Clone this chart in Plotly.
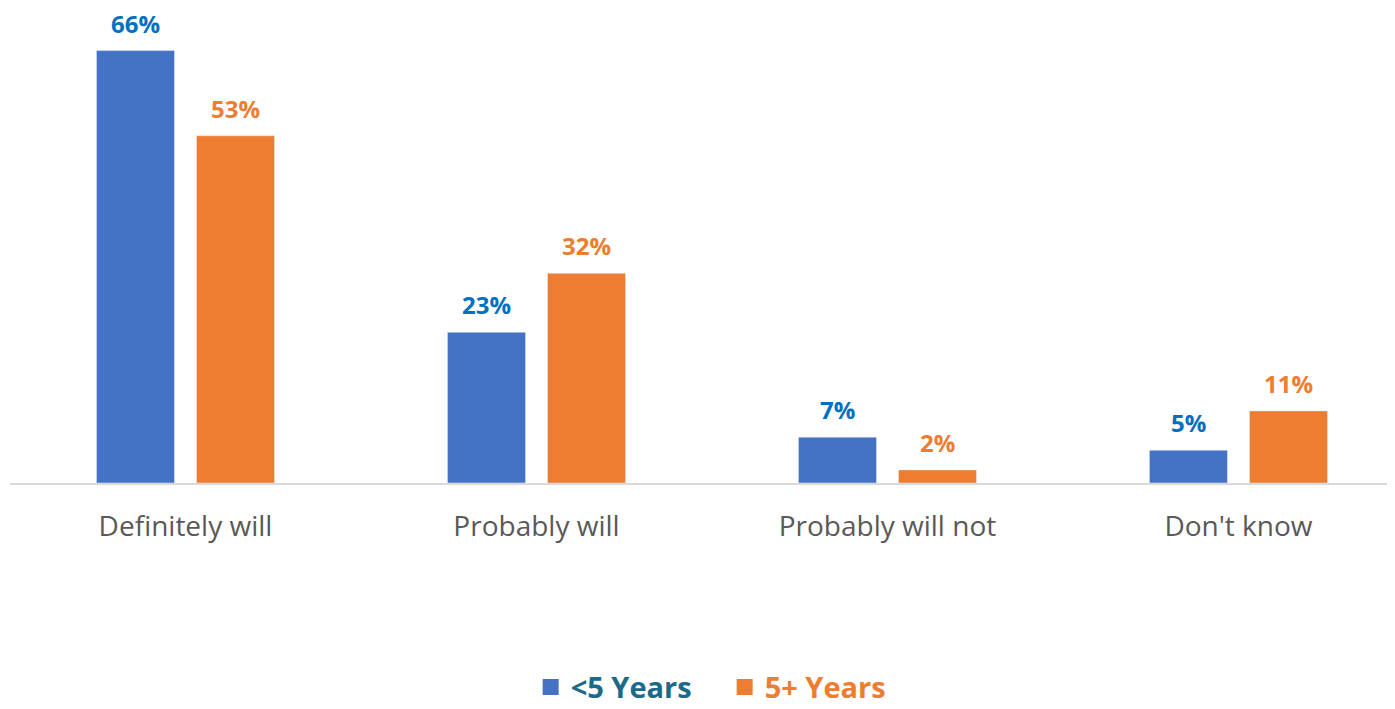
import plotly.graph_objects as go

categories = ["Definitely will", "Probably will", "Probably will not", "Don't know"]
under5 = [66, 23, 7, 5]
over5 = [53, 32, 2, 11]
series_names = ["&lt;5 Years", "5+ Years"]

BLUE = "#4472C4"
ORANGE = "#ED7D31"
BLUE_LABEL = "#0070C0"
LEGEND_BLUE = "#1B6A8A"
FONT = "Open Sans"

fig = go.Figure()
fig.add_trace(go.Bar(x=categories, y=under5, marker_color=BLUE, showlegend=False))
fig.add_trace(go.Bar(x=categories, y=over5, marker_color=ORANGE, showlegend=False))

# legend entries with larger square markers
for name, col, tcol in [(series_names[0], BLUE, LEGEND_BLUE), (series_names[1], ORANGE, ORANGE)]:
    fig.add_trace(go.Scatter(x=[None], y=[None], mode="markers",
                             marker=dict(symbol="square", size=20, color=col),
                             name=f"<b><span style='color:{tcol}'>{name}</span></b>"))

for vals, shift, col in [(under5, -50, BLUE_LABEL), (over5, 50, ORANGE)]:
    for c, v in zip(categories, vals):
        fig.add_annotation(x=c, y=v, text=f"<b>{v}%</b>", showarrow=False,
                           xshift=shift, yshift=9, yanchor="bottom",
                           font=dict(family=FONT, size=24, color=col))

fig.update_layout(
    width=1387, height=701,
    margin=dict(l=2, r=0, t=0, b=226, autoexpand=False),
    paper_bgcolor="white", plot_bgcolor="white",
    barmode="group", bargap=0.43, bargroupgap=0.22,
    showlegend=True,
    legend=dict(orientation="h", x=0.516, xanchor="center", y=-0.43, yanchor="middle",
                font=dict(family=FONT, size=29), itemwidth=30, entrywidth=149),
    font=dict(family=FONT),
)
fig.update_xaxes(range=[-0.5, 3.446], showline=True, linecolor="#D9D9D9", linewidth=2,
                 ticks="", tickfont=dict(family=FONT, size=28, color="#595959"),
                 ticklabelstandoff=17, showgrid=False, zeroline=False)
fig.update_yaxes(range=[0, 72.5], visible=False, showgrid=False, zeroline=False)

fig.write_html("out.html")
